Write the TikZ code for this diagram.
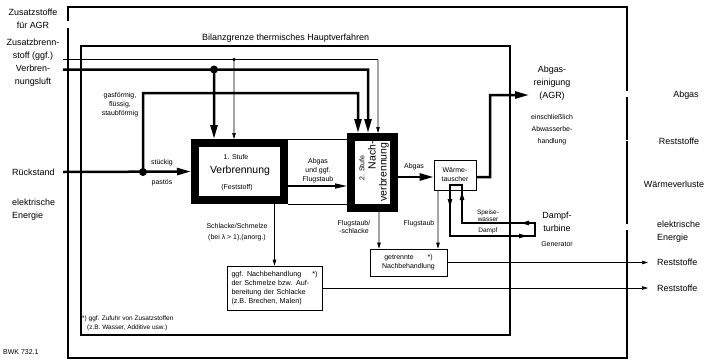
\documentclass[tikz,border=0pt]{standalone}
\usepackage{fontspec}
\setmainfont{Liberation Sans}
\usetikzlibrary{arrows.meta,positioning}
\tikzset{
  lab/.style={font=\fontsize{9}{13}\selectfont, align=center, inner sep=0pt},
  labl/.style={lab, align=left},
  note/.style={font=\fontsize{7}{9}\selectfont, align=center, inner sep=0pt},
  stage/.style={draw, line width=8bp, inner sep=0pt},
  nbbox/.style={draw, line width=0.7bp, inner sep=0pt},
  limit/.style={line width=2.6bp},
  heavy/.style={line width=2.5bp, -{Triangle[length=14bp,width=7bp]}},
  feed/.style={line width=0.7bp, -{Triangle[length=6bp,width=3.5bp]}},
  cycleline/.style={line width=1.1bp},
  cyclehead/.style={line width=1.1bp, -{Triangle[length=8bp,width=4.5bp]}},
}
\begin{document}
\begin{tikzpicture}[x=1bp,y=-1bp,line join=miter]
  \useasboundingbox (0,0) rectangle (709,363);
  % Bilanzgrenze der Gesamtanlage, offen fuer die Austritte rechts
  \draw[limit] (68,21) -- (68,7) -- (627,7) -- (627,91);
  \draw[limit] (627,97) -- (627,139.5);
  \draw[limit] (627,141) -- (627,224);
  \draw[limit] (627,230) -- (627,358) -- (68,358) -- (68,28);
  \draw[line width=1.1bp] (81,46) rectangle (510,335);
  \node[lab, anchor=west] (hv) at (202,38) {Bilanzgrenze thermisches Hauptverfahren};

  % Eintritte links
  \node[lab] (zagr) at (33,19) {Zusatzstoffe\\für AGR};
  \node[lab] (zbs) at (33,50) {Zusatzbrenn-\\stoff (ggf.)};
  \node[lab] (vl) at (33,76) {Verbren-\\nungsluft};
  \node[lab, anchor=west] (rst) at (12,172) {Rückstand};
  \node[labl, anchor=west] (ee1) at (12,210) {elektrische\\Energie};
  \coordinate (zin) at (63,59.5);
  \coordinate (lin) at (63,69.5);
  \coordinate (rin) at (63,172);

  % Verbrennungsstufen
  \node[stage, minimum width=89bp, minimum height=57bp] (st1) at (239.5,171.5) {};
  \node[note] (st1a) at (236,157) {1. Stufe};
  \node[font=\fontsize{10.5}{12}\selectfont, inner sep=0pt] (st1b) at (240,171) {Verbrennung};
  \node[note] (st1c) at (237,188) {(Feststoff)};
  \node[stage, minimum width=43bp, minimum height=71bp] (st2) at (372.5,172.5) {};
  \node[note, rotate=90] (st2a) at (362,168) {2. Stufe};
  \node[font=\fontsize{10.5}{12}\selectfont, inner sep=0pt, rotate=90, anchor=east] (st2b) at (372,141) {Nach-};
  \node[font=\fontsize{10.5}{12}\selectfont, inner sep=0pt, rotate=90] (st2c) at (384,172) {verbrennung};
  \node[nbbox, note, minimum width=42bp, minimum height=30bp] (wt) at (455,175) {Wärme-\\tauscher};

  % Nachbehandlung
  \node[nbbox, font=\fontsize{7.2}{9}\selectfont, align=left, text width=86bp,
    minimum width=95bp, minimum height=44bp] (nb1) at (274.5,288)
    {ggf. Nachbehandlung\hfill*)\\der Schmelze bzw. Auf-\\bereitung der Schlacke\\(z.B. Brechen, Malen)};
  \node[nbbox, note, minimum width=77bp, minimum height=27bp] (nb2) at (408.5,262.5)
    {getrennte\hspace{14bp}*)\\Nachbehandlung};

  % Brennstoff und Luft
  \draw[line width=0.7bp] (zin) -- (378,59.5);
  \draw[feed] (378,59.5) -- ([xshift=5.5bp]st2.north);
  \draw[feed] (234,59.5) -- ([xshift=-5.5bp]st1.north);
  \fill (234,59.5) circle (1.8bp);
  \draw[heavy] (lin) -- (368,69.5) -- ([xshift=-4.5bp]st2.north);
  \draw[heavy] (214,69.5) -- ([xshift=-25.5bp]st1.north);
  \fill (214,69.5) circle (4bp);
  \draw[heavy] (143,172) -- (143,93) -- (358,93) -- ([xshift=-14.5bp]st2.north);
  \draw[heavy] (rin) -- (st1.west);
  \fill (143,172) circle (4bp);
  \node[note] (gfs) at (120,105) {gasförmig,\\flüssig,\\staubförmig};
  \node[note] (stk) at (162,163) {stückig};
  \node[note] (pst) at (162,183) {pastös};

  % Abgasweg
  \draw[line width=0.7bp] (st1.north east) -- (st1.north east -| st2.west);
  \draw[line width=0.7bp] (st1.south east) -- (st1.south east -| st2.west);
  \draw[line width=1.4bp, -{Triangle[length=12bp,width=5bp]}]
    ([yshift=-14.5bp]st1.east) -- ([yshift=-14.5bp]st1.east -| st2.west);
  \node[note] (agf) at (318,170.5) {Abgas\\und ggf.\\Flugstaub};
  \draw[heavy] ([yshift=-4.5bp]st2.east) -- ([yshift=-4.5bp]st2.east -| wt.west);
  \node[note] (ag2) at (414,167) {Abgas};
  \coordinate (agrin) at (529,95);
  \draw[heavy] ([yshift=-2bp]wt.east) -- (490,177) -- (490,95) -- (agrin);
  \node[lab] (agr) at (552,83) {Abgas-\\reinigung\\(AGR)};
  \node[note, font=\fontsize{7}{12}\selectfont] (abw) at (552,130) {einschließlich\\Abwasserbe-\\handlung};

  % Wasser-Dampf-Kreislauf
  \coordinate (sw) at (535,223);
  \coordinate (dp) at (535,236);
  \draw[cycleline] (sw) -- (462,223) -- (462,185) -- (450,185) -- (450,236) -- (dp) -- cycle;
  \draw[cyclehead] (533,223) -- (521,223);
  \draw[cyclehead] (512,236) -- (527,236);
  \draw[cyclehead] (462,206) -- (462,192);
  \draw[cyclehead] (450,193) -- (450,207);
  \node[note, font=\fontsize{6.5}{7.5}\selectfont] (spw) at (488,215.5) {Speise-\\wasser};
  \node[note, font=\fontsize{6.5}{7.5}\selectfont] (dmp) at (488,231) {Dampf};
  \node[lab] (dt) at (557,222) {Dampf-\\turbine};
  \node[note] (gen) at (557,244) {Generator};

  % Reststoffwege
  \draw[feed] ([xshift=35bp]st1.south) -- (nb1.north);
  \node[note, font=\fontsize{7}{11}\selectfont] (sch) at (237,232.5) {Schlacke/Schmelze\\(bei λ > 1),(anorg.)};
  \draw[feed] ([xshift=6.5bp]st2.south) -- ([xshift=-29.5bp]nb2.north);
  \node[note] (fss) at (354,227) {Flugstaub/\\-schlacke};
  \draw[feed] ([xshift=-17bp]wt.south) -- ([xshift=29.5bp]nb2.north);
  \node[note] (fs) at (419,224) {Flugstaub};

  % Austritte rechts
  \node[lab] (abg) at (686,95) {Abgas};
  \node[lab] (rs1) at (679,141) {Reststoffe};
  \node[lab] (wv) at (674,184) {Wärmeverluste};
  \node[labl, anchor=west] (ee2) at (657,231.5) {elektrische\\Energie};
  \node[lab, anchor=west] (rs2) at (657,262.5) {Reststoffe};
  \node[lab, anchor=west] (rs3) at (657,288) {Reststoffe};
  \draw[feed] (nb2.east) -- ([xshift=-9bp]rs2.west);
  \draw[feed] (nb1.east) -- ([xshift=-9bp]rs3.west);

  \node[font=\fontsize{6.5}{9}\selectfont, align=left, inner sep=0pt, anchor=north west] (fn) at (82,316)
    {*) ggf. Zufuhr von Zusatzstoffen\\\hspace*{5bp}(z.B. Wasser, Additive usw.)};
  \node[note, anchor=west] (bwk) at (3,352) {BWK 732.1};
\end{tikzpicture}
\end{document}
